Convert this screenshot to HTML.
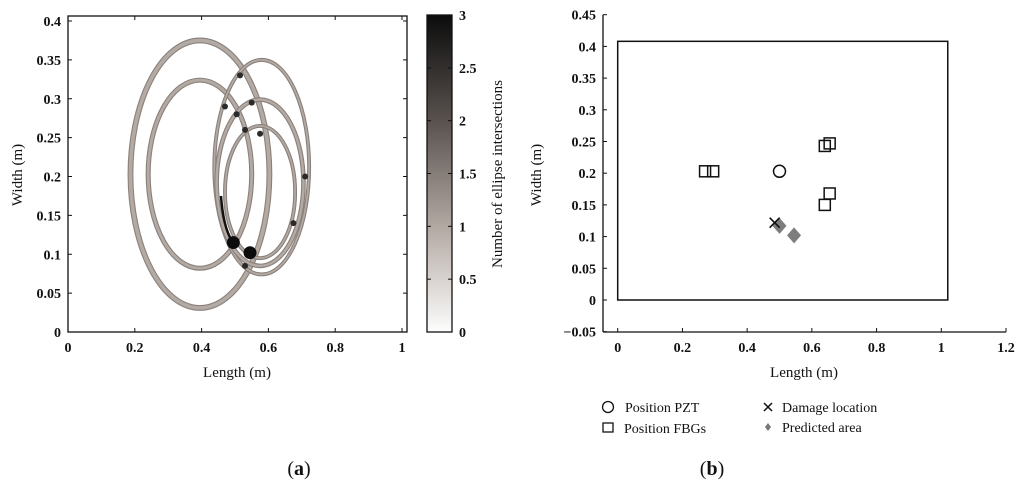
<!DOCTYPE html>
<html><head><meta charset="utf-8"><style>
body{margin:0;background:#fff;}
svg{display:block;font-family:"Liberation Serif",serif;}
text{fill:#111;}
</style></head><body>
<svg id="s" width="1024" height="490" viewBox="0 0 1024 490" xmlns="http://www.w3.org/2000/svg">
<defs>
<linearGradient id="cb" x1="0" y1="1" x2="0" y2="0">
<stop offset="0" stop-color="#fdfdfd"/><stop offset="0.33" stop-color="#b3a9a3"/><stop offset="0.66" stop-color="#5a5350"/><stop offset="1" stop-color="#0c0c0c"/>
</linearGradient>
</defs>
<g id="ga"></g>
<g id="gb"></g>
<text x="299" y="475" font-size="20" text-anchor="middle">(<tspan font-weight="bold">a</tspan>)</text>
<text x="712" y="475" font-size="20" text-anchor="middle">(<tspan font-weight="bold">b</tspan>)</text>
</svg>
<script>
// ---- Chart A data ----
const aXTicks = [0,0.2,0.4,0.6,0.8,1];
const aYTicks = [0,0.05,0.1,0.15,0.2,0.25,0.3,0.35,0.4];
const cbTicks = [0,0.5,1,1.5,2,2.5,3];
const ellCx = [0.395,0.395,0.58,0.575,0.575];
const ellCy = [0.203,0.203,0.212,0.192,0.18];
const ellRx = [0.208,0.155,0.142,0.13,0.105];
const ellRy = [0.172,0.121,0.138,0.107,0.085];
const ellW  = [0.0075,0.0065,0.005,0.006,0.005];
const hotX = [0.515,0.47,0.505,0.55,0.53,0.575,0.71,0.675,0.53];
const hotY = [0.33,0.29,0.28,0.295,0.26,0.255,0.2,0.14,0.085];
const blobX = [0.495,0.545];
const blobY = [0.115,0.102];
// ---- Chart B data ----
const bXTicks = [0,0.2,0.4,0.6,0.8,1,1.2];
const bYTicks = [-0.05,0,0.05,0.1,0.15,0.2,0.25,0.3,0.35,0.4,0.45];
const pztX = [0.5], pztY = [0.203];
const fbgX = [0.27,0.295,0.64,0.655,0.655,0.64];
const fbgY = [0.203,0.203,0.243,0.247,0.168,0.15];
const dmgX = [0.485], dmgY = [0.122];
const predX = [0.5,0.545], predY = [0.117,0.102];
const plateW = 1.02, plateH = 0.408;

const NS="http://www.w3.org/2000/svg";
function mk(p,t,a,txt){const e=document.createElementNS(NS,t);for(const k in a)e.setAttribute(k,a[k]);if(txt!==undefined)e.textContent=txt;p.appendChild(e);return e;}

// Chart A
const ga=document.getElementById('ga');
const ax=v=>68+v*334, ay=v=>332-v*777.5;
mk(ga,'rect',{x:68,y:16,width:339,height:316,fill:'#fff',stroke:'#111','stroke-width':1.3});
for(let i=0;i<ellCx.length;i++){
  const w=ellW[i]*777.5;
  const e=mk(ga,'ellipse',{cx:ax(ellCx[i]),cy:ay(ellCy[i]),rx:ellRx[i]*334,ry:ellRy[i]*777.5,fill:'none',stroke:'#8a807b','stroke-width':w});
  
  
  mk(ga,'ellipse',{cx:ax(ellCx[i]),cy:ay(ellCy[i]),rx:ellRx[i]*334,ry:ellRy[i]*777.5,fill:'none',stroke:'#b3aaa4','stroke-width':Math.max(w-2.2,1)});
}
mk(ga,'path',{d:`M${ax(0.458)} ${ay(0.175)} Q${ax(0.465)} ${ay(0.135)} ${ax(0.49)} ${ay(0.118)}`,fill:'none',stroke:'#111','stroke-width':2.5});
for(let i=0;i<hotX.length;i++){
  const e=mk(ga,'circle',{cx:ax(hotX[i]),cy:ay(hotY[i]),r:3,fill:'#2a2a2a'});
  
  
}
for(let i=0;i<blobX.length;i++){
  const e=mk(ga,'circle',{cx:ax(blobX[i]),cy:ay(blobY[i]),r:6.5,fill:'#0c0c0c'});
  
  
}
aXTicks.forEach(v=>{mk(ga,'line',{x1:ax(v),x2:ax(v),y1:332,y2:328,stroke:'#111'});mk(ga,'line',{x1:ax(v),x2:ax(v),y1:16,y2:20,stroke:'#111'});
  const t=mk(ga,'text',{x:ax(v),y:352,'font-size':14,'text-anchor':'middle','font-weight':'bold'},String(v));});
aYTicks.forEach(v=>{mk(ga,'line',{x1:68,x2:72,y1:ay(v),y2:ay(v),stroke:'#111'});mk(ga,'line',{x1:407,x2:403,y1:ay(v),y2:ay(v),stroke:'#111'});
  const t=mk(ga,'text',{x:61,y:ay(v)+5,'font-size':14,'text-anchor':'end','font-weight':'bold'},String(v));});
let t=mk(ga,'text',{x:237,y:377,'font-size':15,'text-anchor':'middle'},'Length (m)');
t=mk(ga,'text',{x:0,y:0,'font-size':15,'text-anchor':'middle',transform:'translate(22,175) rotate(-90)'},'Width (m)');
// colorbar
let cb=mk(ga,'rect',{x:427,y:15,width:25,height:317,fill:'url(#cb)',stroke:'#111','stroke-width':1.3});

cbTicks.forEach(v=>{const y=332-v/3*317;mk(ga,'line',{x1:452,x2:448,y1:y,y2:y,stroke:'#111'});mk(ga,'line',{x1:427,x2:431,y1:y,y2:y,stroke:'#111'});
  const e=mk(ga,'text',{x:459,y:y+5,'font-size':14,'font-weight':'bold'},String(v));});
t=mk(ga,'text',{x:0,y:0,'font-size':15,'text-anchor':'middle',transform:'translate(502,174) rotate(-90)'},'Number of ellipse intersections');

// Chart B
const gb=document.getElementById('gb');
const bx=v=>617.7+v*323.6, by=v=>300-v*634;
let pl=mk(gb,'rect',{x:bx(0),y:by(plateH),width:plateW*323.6,height:plateH*634,fill:'none',stroke:'#111','stroke-width':1.5});

mk(gb,'line',{x1:603,x2:603,y1:by(0.45),y2:332,stroke:'#111','stroke-width':1.3});
mk(gb,'line',{x1:603,x2:1006,y1:332,y2:332,stroke:'#111','stroke-width':1.3});
bXTicks.forEach(v=>{mk(gb,'line',{x1:bx(v),x2:bx(v),y1:332,y2:328,stroke:'#111'});
  const e=mk(gb,'text',{x:bx(v),y:352,'font-size':14,'text-anchor':'middle','font-weight':'bold'},String(v));});
bYTicks.forEach(v=>{mk(gb,'line',{x1:603,x2:607,y1:by(v),y2:by(v),stroke:'#111'});
  const e=mk(gb,'text',{x:596,y:by(v)+5,'font-size':14,'text-anchor':'end','font-weight':'bold'},v<0?'\u2212'+String(-v):String(v));});
t=mk(gb,'text',{x:804,y:377,'font-size':15,'text-anchor':'middle'},'Length (m)');
t=mk(gb,'text',{x:0,y:0,'font-size':15,'text-anchor':'middle',transform:'translate(541,175) rotate(-90)'},'Width (m)');
for(let i=0;i<fbgX.length;i++){const e=mk(gb,'rect',{x:bx(fbgX[i])-5.5,y:by(fbgY[i])-5.5,width:11,height:11,fill:'none',stroke:'#111','stroke-width':1.5});
  }
for(let i=0;i<pztX.length;i++){const e=mk(gb,'circle',{cx:bx(pztX[i]),cy:by(pztY[i]),r:6,fill:'none',stroke:'#111','stroke-width':1.5});
  }
for(let i=0;i<predX.length;i++){const cx=bx(predX[i]),cy=by(predY[i]);const e=mk(gb,'path',{d:`M${cx} ${cy-8}L${cx+7} ${cy}L${cx} ${cy+8}L${cx-7} ${cy}Z`,fill:'#7d7d7d'});
  }
for(let i=0;i<dmgX.length;i++){const cx=bx(dmgX[i]),cy=by(dmgY[i]);const e=mk(gb,'path',{d:`M${cx-5} ${cy-5}L${cx+5} ${cy+5}M${cx+5} ${cy-5}L${cx-5} ${cy+5}`,stroke:'#111','stroke-width':1.6});
  }
// legend
const lg=mk(gb,'g',{});
mk(lg,'circle',{cx:608,cy:407,r:5.5,fill:'none',stroke:'#111','stroke-width':1.3});
mk(lg,'text',{x:625,y:412,'font-size':14},'Position PZT');
mk(lg,'rect',{x:603,y:423,width:10,height:9,fill:'none',stroke:'#111','stroke-width':1.3});
mk(lg,'text',{x:624,y:433,'font-size':14},'Position FBGs');
mk(lg,'path',{d:'M764 403L772 411M772 403L764 411',stroke:'#111','stroke-width':1.5});
mk(lg,'text',{x:782,y:412,'font-size':14},'Damage location');
mk(lg,'path',{d:'M768 423L771 427L768 431L765 427Z',fill:'#777'});
mk(lg,'text',{x:782,y:432,'font-size':14},'Predicted area');
</script>
</body></html>
